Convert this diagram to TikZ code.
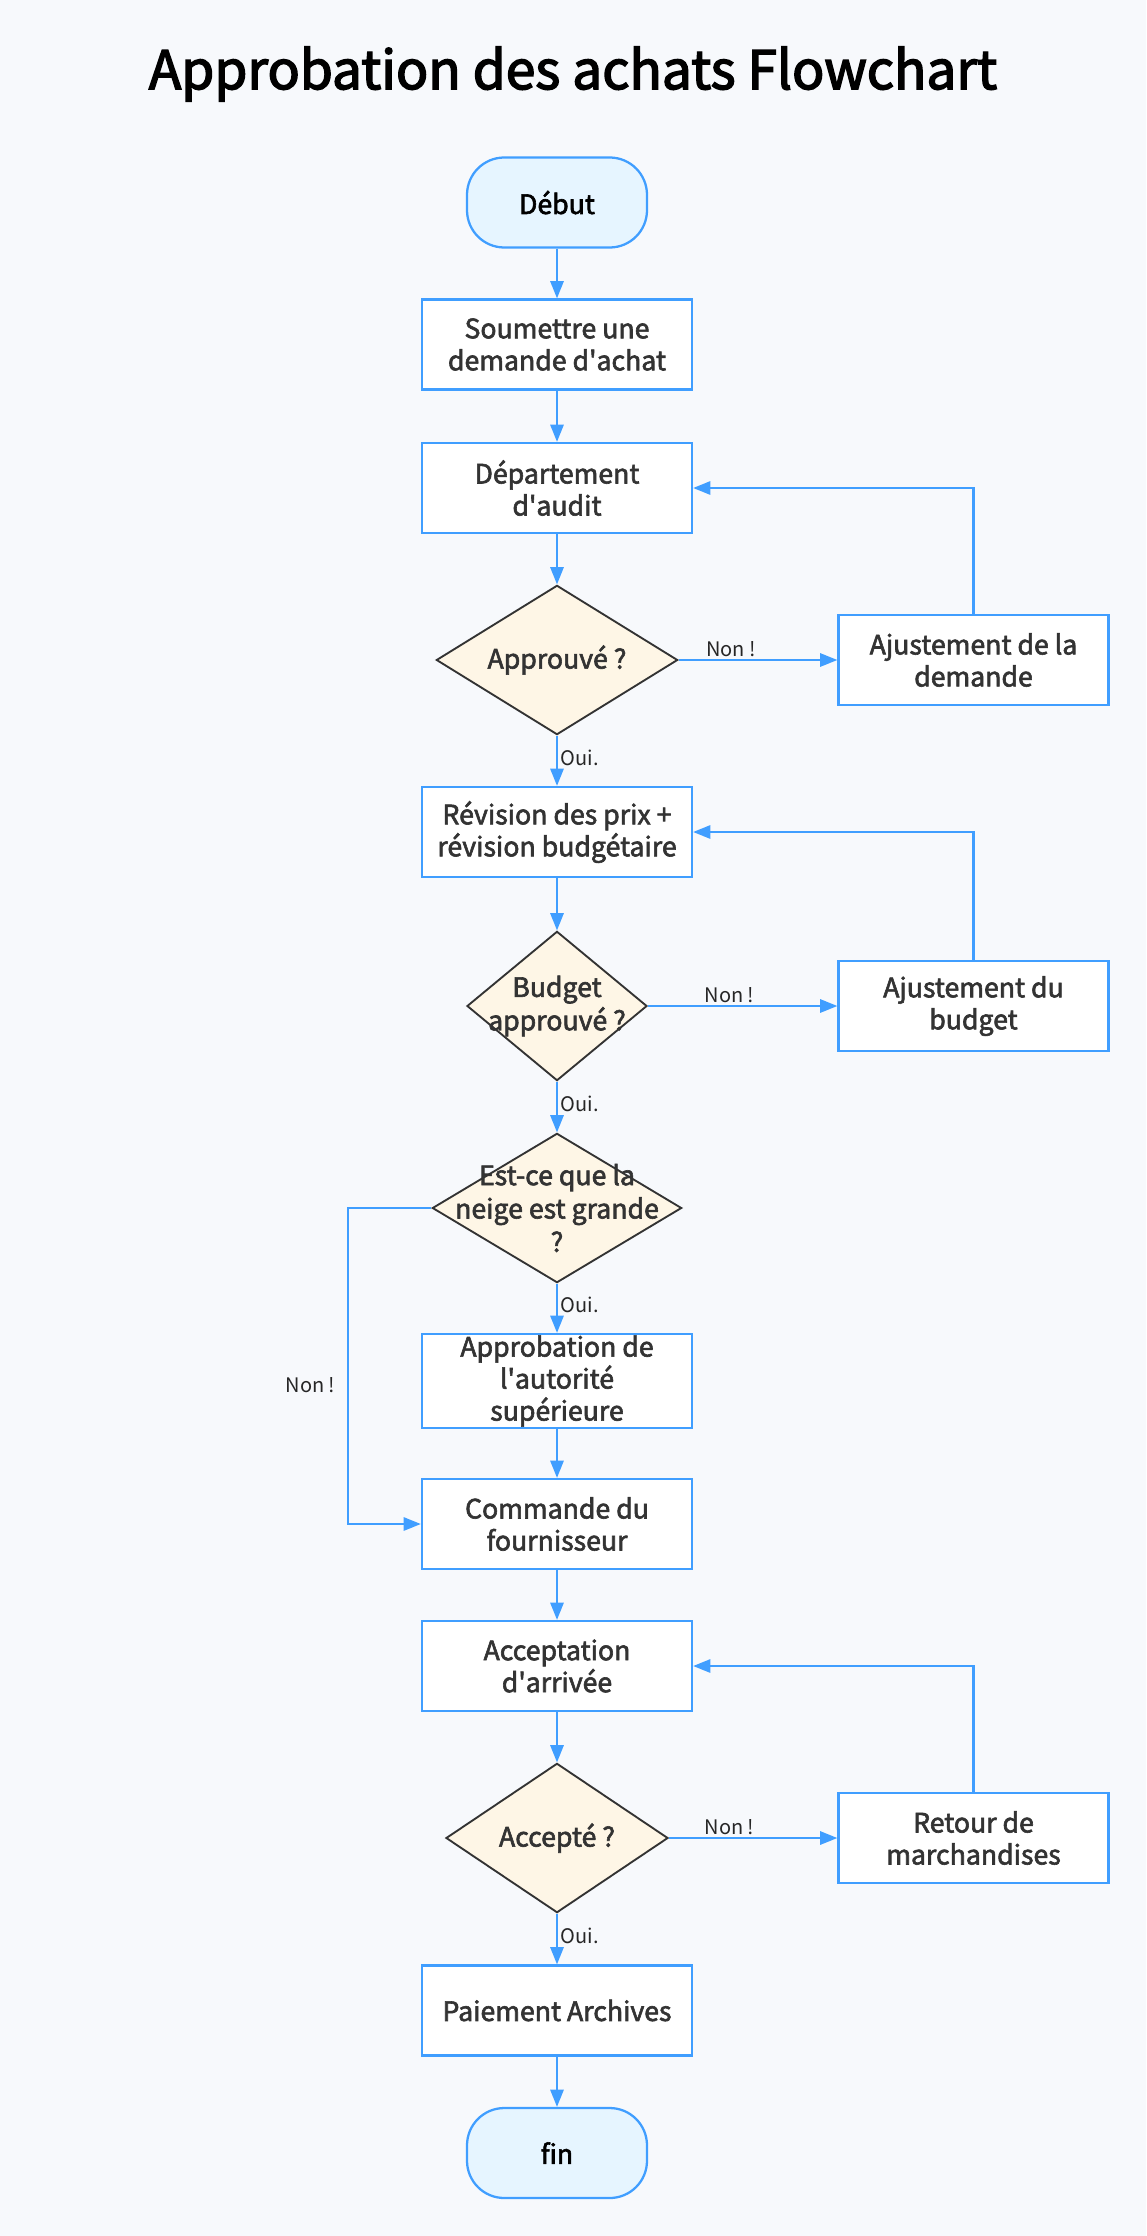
\documentclass[tikz,border=0pt]{standalone}
\usepackage{fontspec}
\setmainfont{Noto Sans CJK SC}
\newcommand{\heavytext}[1]{\special{pdf:literal direct 2 Tr #1 w}}
\usetikzlibrary{arrows.meta, positioning, calc, shapes.geometric, shapes.misc}
\definecolor{pbg}{HTML}{F7F9FC}
\definecolor{pblue}{HTML}{409EFF}
\definecolor{pcyan}{HTML}{E6F5FF}
\definecolor{pcream}{HTML}{FEF6E6}
\definecolor{pdark}{HTML}{333333}
\tikzset{
  >=Triangle,
  stepbox/.style={
    draw=pblue, fill=white, line width=1.7pt, align=center,
    minimum width=202.5pt, minimum height=67.5pt, inner xsep=4pt, inner ysep=1pt,
    text=pdark, font=\fontsize{20}{24}\selectfont\heavytext{0.45}
  },
  term/.style={stepbox, fill=pcyan, rounded corners=28pt, minimum width=135pt, text=black},
  decision/.style={
    diamond, draw=pdark, fill=pcream, line width=1.4pt, inner sep=0pt,
    minimum height=112pt, minimum width=#1
  },
  dtext/.style={align=center, inner sep=0pt, text=pdark, font=\fontsize{20}{25}\selectfont\heavytext{0.45}},
  arr/.style={draw=pblue, line width=1.6pt, -{Triangle[length=13pt,width=10pt]}},
  lab/.style={font=\fontsize{15}{17}\selectfont, text=black!85, inner sep=2pt},
  titletext/.style={font=\fontsize{40}{46}\selectfont\heavytext{1.1}, text=black}
}
\begin{document}
\begin{tikzpicture}[x=0.75pt, y=-0.75pt]
  \fill[pbg] (0,0) rectangle (1146,2236);
  \useasboundingbox (0,0) rectangle (1146,2236);
  \node[titletext] (ttl) at (573,74) {Approbation des achats Flowchart};
  % colonne principale
  \node[term] (deb) at (557,202.5) {Début};
  \node[stepbox] (soum) at (557,344.5) {Soumettre une\\demande d\textquotesingle achat};
  \node[stepbox] (audit) at (557,488) {Département\\d\textquotesingle audit};
  \node[decision=181pt, label={[dtext]center:Approuvé ?}] (appr) at (557,660) {};
  \node[stepbox] (rev) at (557,832) {Révision des prix +\\révision budgétaire};
  \node[decision=135pt, label={[dtext]center:{Budget\\approuvé ?}}] (budg) at (557,1006) {};
  \node[decision=187pt, label={[dtext]center:{Est-ce que la\\neige est grande\\?}}] (neige) at (557,1208) {};
  \node[stepbox] (autor) at (557,1381) {Approbation de\\l\textquotesingle autorité\\supérieure};
  \node[stepbox] (cmd) at (557,1524) {Commande du\\fournisseur};
  \node[stepbox] (arriv) at (557,1666) {Acceptation\\d\textquotesingle arrivée};
  \node[decision=166.5pt, label={[dtext]center:Accepté ?}] (acc) at (557,1838) {};
  \node[stepbox] (paie) at (557,2010.5) {Paiement Archives};
  \node[term] (fin) at (557,2153) {fin};
  % colonne de droite
  \node[stepbox] (ajdem) at (973.5,660) {Ajustement de la\\demande};
  \node[stepbox] (ajbud) at (973.5,1006) {Ajustement du\\budget};
  \node[stepbox] (retour) at (973.5,1838) {Retour de\\marchandises};
  % liaisons
  \draw[arr] (deb) -- (soum);
  \draw[arr] (soum) -- (audit);
  \draw[arr] (audit) -- (appr);
  \draw[arr] (appr) -- node[lab, right, pos=0.44] {Oui.} (rev);
  \draw[arr] (appr) -- node[lab, above, pos=0.33] {Non !} (ajdem);
  \draw[arr] (ajdem) |- (audit);
  \draw[arr] (rev) -- (budg);
  \draw[arr] (budg) -- node[lab, right, pos=0.44] {Oui.} (neige);
  \draw[arr] (budg) -- node[lab, above, pos=0.43] {Non !} (ajbud);
  \draw[arr] (ajbud) |- (rev);
  \draw[arr] (neige) -- node[lab, right, pos=0.44] {Oui.} (autor);
  \draw[arr] (neige.west) -- ++(-83,0) |- node[lab, left=7pt, pos=0.28] {Non !} (cmd.west);
  \draw[arr] (autor) -- (cmd);
  \draw[arr] (cmd) -- (arriv);
  \draw[arr] (arriv) -- (acc);
  \draw[arr] (acc) -- node[lab, right, pos=0.44] {Oui.} (paie);
  \draw[arr] (acc) -- node[lab, above, pos=0.36] {Non !} (retour);
  \draw[arr] (retour) |- (arriv);
  \draw[arr] (paie) -- (fin);
\end{tikzpicture}
\end{document}
